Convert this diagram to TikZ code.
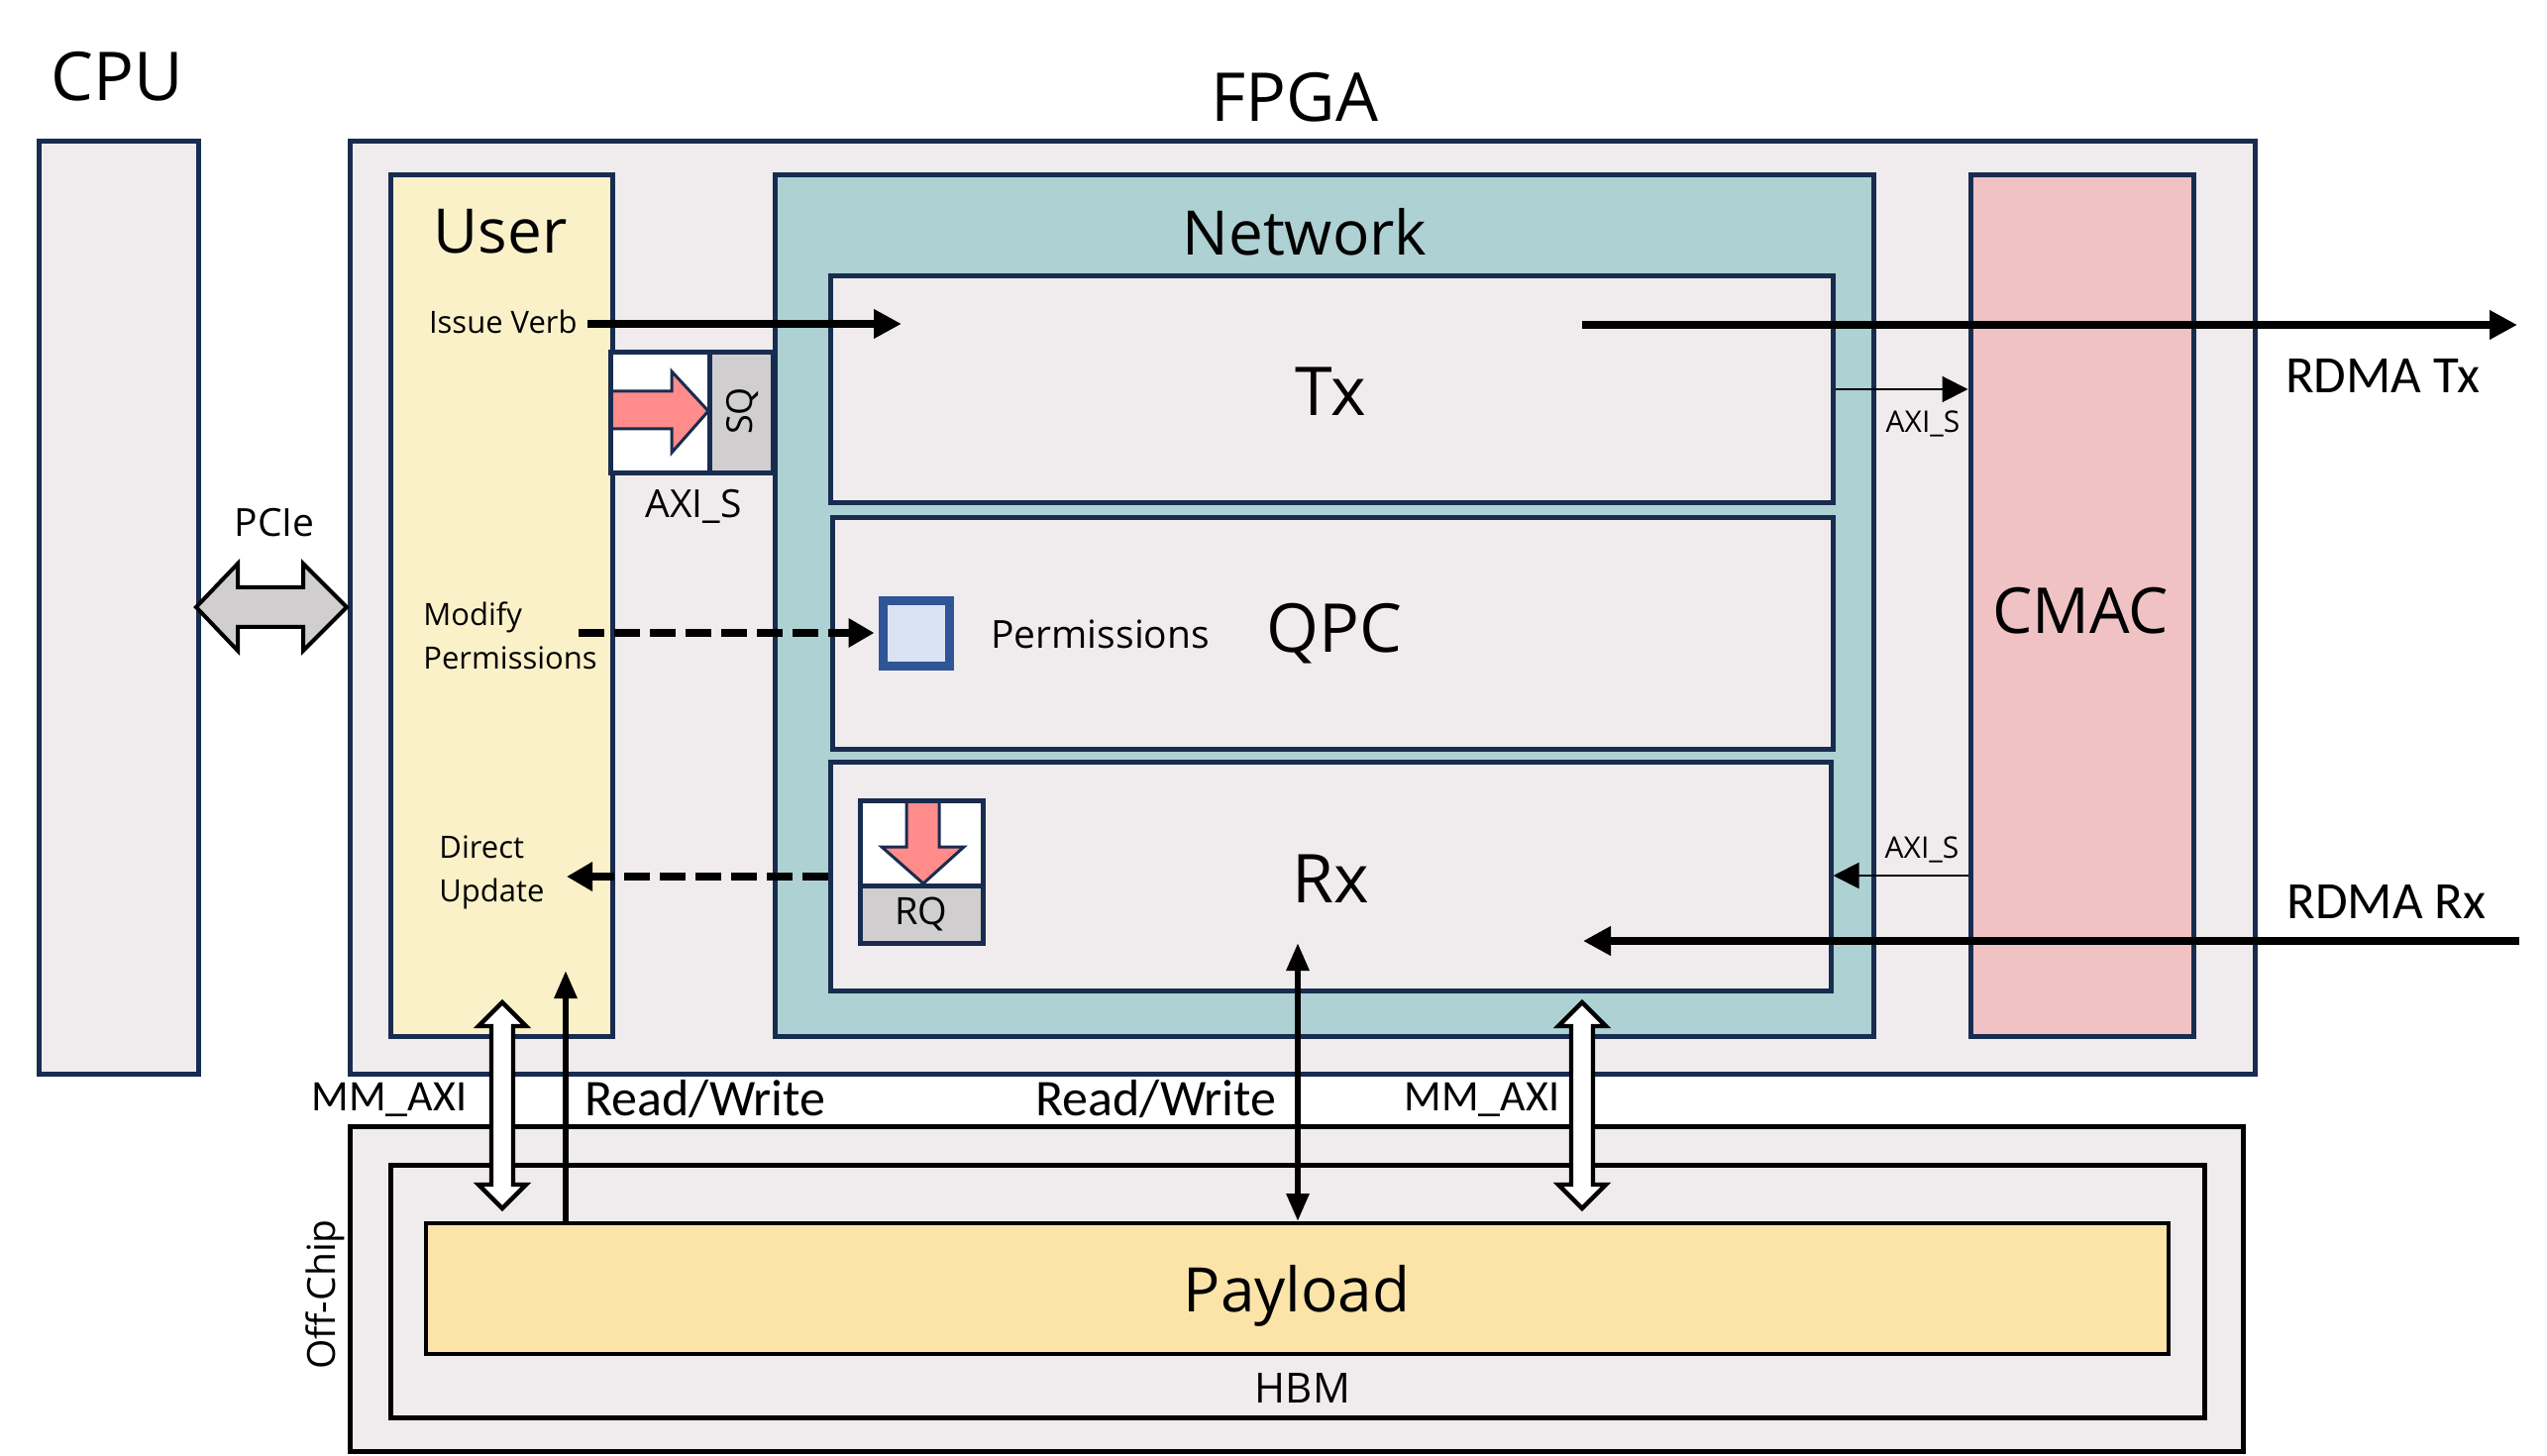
\documentclass[tikz,border=0pt]{standalone}
\usepackage{fontspec}
\setmainfont{Open Sans}
\newfontfamily\calfont{Carlito}
\usetikzlibrary{arrows.meta,fit}
\definecolor{navy}{RGB}{24,44,80}
\definecolor{bggrey}{RGB}{240,236,237}
\definecolor{useryel}{RGB}{251,241,201}
\definecolor{netteal}{RGB}{174,209,211}
\definecolor{cmacpink}{RGB}{240,194,196}
\definecolor{payyel}{RGB}{252,228,169}
\definecolor{qgrey}{RGB}{208,206,206}
\definecolor{arrpink}{RGB}{255,139,139}
\definecolor{permblue}{RGB}{47,85,151}
\definecolor{permfill}{RGB}{218,227,243}
\newcommand{\hollowv}[3]{%
  \draw[hollow] (#1,#2) -- (#1+24,#2+24) -- (#1+11,#2+24) -- (#1+11,#3-24) -- (#1+24,#3-24) -- (#1,#3) -- (#1-24,#3-24) -- (#1-11,#3-24) -- (#1-11,#2+24) -- (#1-24,#2+24) -- cycle;}
\begin{document}
\begin{tikzpicture}[x=0.5pt,y=-0.5pt,
  box/.style={draw=navy,line width=2.5pt,inner sep=0pt},
  kbox/.style={draw=black,line width=2.5pt,inner sep=0pt},
  txt/.style={inner sep=0pt,text=black},
  bigarr/.style={line width=4pt,-{Triangle[length=14pt,width=14pt]}},
  dasharr/.style={line width=4pt,dash pattern=on 13pt off 5pt,-{Triangle[length=13pt,width=14pt]}},
  thinarr/.style={line width=1pt,-{Triangle[length=13pt,width=13pt]}},
  rwarr/.style={line width=3pt},
  hollow/.style={draw=black,fill=white,line width=2.2pt,line join=miter},
  pciearr/.style={draw=black,fill=qgrey,line width=2pt,line join=miter},
  pinkarr/.style={draw=navy,fill=arrpink,line width=1.5pt,line join=miter}
]
\useasboundingbox (0,0) rectangle (2571,1470);
\fill[white] (0,0) rectangle (2571,1470);

% main boxes
\node[box,fill=bggrey,fit={(39,143)(200,1084)}] (cpu) {};
\node[box,fill=bggrey,fit={(353,143)(2276,1084)}] (fpga) {};
\node[box,fill=useryel,fit={(394,177)(618,1046)}] (user) {};
\node[box,fill=netteal,fit={(782,177)(1891,1046)}] (net) {};
\node[box,fill=bggrey,fit={(838,279)(1850,508)}] (tx) {};
\node[box,fill=bggrey,fit={(840,523)(1850,756)}] (qpc) {};
\node[box,fill=bggrey,fit={(838,769)(1848,1000)}] (rx) {};
\node[box,fill=cmacpink,fit={(1989,177)(2214,1046)}] (cmac) {};

% off-chip
\node[kbox,fill=bggrey,fit={(353,1137)(2264,1465)}] (offchip) {};
\node[kbox,fill=bggrey,fit={(394,1176)(2225,1431)}] (hbm) {};
\node[kbox,line width=2pt,fill=payyel,fit={(430,1235)(2189,1367)}] (payload) {};

% SQ
\node[box,fill=white,fit={(616,356)(716,478)}] (sqw) {};
\draw[pinkarr] (616,395) -- (678,395) -- (678,375) -- (715,415) -- (678,457) -- (678,433) -- (616,433) -- cycle;
\node[box,fill=qgrey,fit={(716,356)(780,478)}] (sqg) {};
\node[box,fit={(616,356)(716,478)}] (sqframe) {};

% RQ
\node[box,fill=white,fit={(868,808)(992,894)}] (rqw) {};
\draw[pinkarr] (915,808) -- (948,808) -- (948,855) -- (973,855) -- (932,892) -- (890,855) -- (915,855) -- cycle;
\node[box,fill=qgrey,fit={(868,894)(992,952)}] (rqg) {};
\node[box,fit={(868,808)(992,894)}] (rqframe) {};

% permissions square
\node[draw=permblue,fill=permfill,line width=4.5pt,inner sep=0pt,fit={(891,607)(958,673)}] (perm) {};

% texts
\node[txt,font=\fontsize{34}{40}\selectfont] (tcpu) at (118,77) {CPU};
\node[txt,font=\fontsize{34}{40}\selectfont] (tfpga) at (1307,98) {FPGA};
\node[txt,font=\fontsize{31}{37}\selectfont] (tuser) at (505,234) {User};
\node[txt,font=\fontsize{31}{37}\selectfont] (tnet) at (1317,234) {Network};
\node[txt,font=\fontsize{34}{40}\selectfont] (ttx) at (1343,395) {Tx};
\node[txt,font=\fontsize{34}{40}\selectfont] (tqpc) at (1347,640) {QPC};
\node[txt,font=\fontsize{34}{40}\selectfont] (trx) at (1343,887) {Rx};
\node[txt,font=\fontsize{32}{38}\selectfont] (tcmac) at (2100,617) {CMAC};
\node[txt,font=\fontsize{31}{37}\selectfont] (tpay) at (1309,1308) {Payload};
\node[txt,font=\fontsize{21}{25}\selectfont] (thbm) at (1315,1402) {HBM};
\node[txt,font=\fontsize{19.5}{23}\selectfont,rotate=90] (toff) at (328,1307) {Off-Chip};
\node[txt,font=\fontsize{15.5}{19}\selectfont,anchor=east] (tissue) at (583,325) {Issue Verb};
\node[txt,font=\fontsize{18}{22}\selectfont,rotate=90] (tsq) at (749,415) {SQ};
\node[txt,font=\fontsize{19.5}{23}\selectfont] (taxis1) at (700,511) {AXI\_S};
\node[txt,font=\fontsize{15}{18}\selectfont] (taxis2) at (1941,428) {AXI\_S};
\node[txt,font=\fontsize{15}{18}\selectfont] (taxis3) at (1940,858) {AXI\_S};
\node[txt,font=\calfont\fontsize{26.5}{31}\selectfont] (trdtx) at (2405,380) {RDMA Tx};
\node[txt,font=\calfont\fontsize{26.5}{31}\selectfont] (trdrx) at (2409,910) {RDMA Rx};
\node[txt,font=\fontsize{19.5}{23}\selectfont] (tpcie) at (277,528) {PCIe};
\node[txt,font=\fontsize{15.5}{22}\selectfont,align=left,anchor=west] (tmod) at (427,642) {Modify\\Permissions};
\node[txt,font=\fontsize{15.5}{22}\selectfont,align=left,anchor=west] (tdir) at (443,881) {Direct\\Update};
\node[txt,font=\fontsize{19.5}{23}\selectfont,anchor=west] (tperm) at (1000,640) {Permissions};
\node[txt,font=\fontsize{19}{23}\selectfont] (trq) at (930,923) {RQ};
\node[txt,font=\calfont\fontsize{26}{31}\selectfont] (trw1) at (712,1110) {Read/Write};
\node[txt,font=\calfont\fontsize{26}{31}\selectfont] (trw2) at (1167,1110) {Read/Write};
\node[txt,font=\calfont\fontsize{22}{26}\selectfont] (tmm1) at (393,1110) {MM\_AXI};
\node[txt,font=\calfont\fontsize{22}{26}\selectfont] (tmm2) at (1496,1110) {MM\_AXI};

% PCIe double arrow
\draw[pciearr] (198,613) -- (240,569) -- (240,593) -- (306,593) -- (306,569) -- (350,613) -- (306,657) -- (306,633) -- (240,633) -- (240,657) -- cycle;

% connectors
\coordinate (ivS) at (593,327);
\coordinate (ivE) at (910,327);
\draw[bigarr] (ivS) -- (ivE);
\coordinate (txS) at (1597,328);
\coordinate (txE) at (2541,328);
\draw[bigarr] (txS) -- (txE);
\coordinate (rxS) at (2543,950);
\coordinate (rxE) at (1598,950);
\draw[bigarr] (rxS) -- (rxE);
\coordinate (ax1) at (0,393);
\coordinate (ax2) at (0,884);
\draw[thinarr] (tx.east |- ax1) -- (cmac.west |- ax1);
\draw[thinarr] (cmac.west |- ax2) -- (rx.east |- ax2);
\coordinate (modS) at (584,639);
\draw[dasharr] (modS) -- ([xshift=-2pt]perm.west |- modS);
\coordinate (du) at (572,885);
\draw[dasharr] (rx.west |- du) -- (du);
\coordinate (rwT) at (1310,952);
\draw[rwarr,{Triangle[length=14pt,width=11pt]}-{Triangle[length=14pt,width=11pt]}] (rwT) -- (rwT |- payload.north);
\coordinate (luT) at (571,980);
\draw[rwarr,-{Triangle[length=14pt,width=11pt]}] (luT |- payload.north) -- (luT);

% hollow MM_AXI arrows
\hollowv{507}{1012}{1220}
\hollowv{1597}{1012}{1220}
\end{tikzpicture}
\end{document}
